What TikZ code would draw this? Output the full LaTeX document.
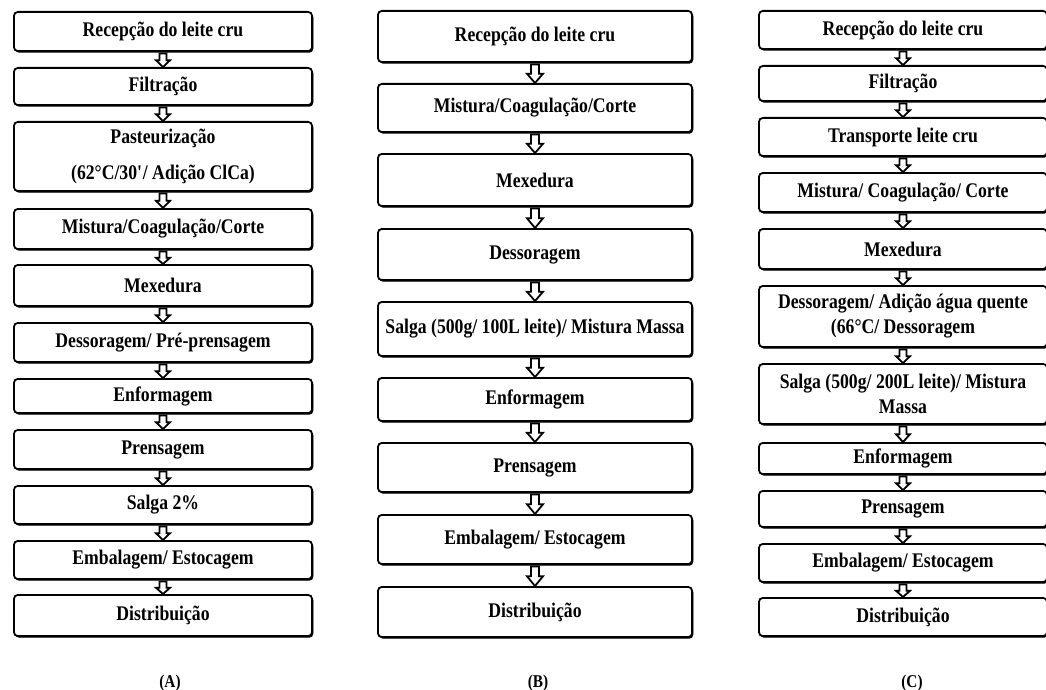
\documentclass[tikz,border=0pt]{standalone}
\usepackage{fontspec}
\setmainfont{Liberation Serif}[FakeStretch=0.85]
\usetikzlibrary{calc,shadows}
\pgfdeclarelayer{bg}
\pgfdeclarelayer{arrowlayer}
\pgfsetlayers{bg,arrowlayer,main}
\tikzset{
  flowbox/.style={draw=black, line width=1.8pt, rounded corners=4pt, fill=white,
    drop shadow={shadow xshift=1.2pt, shadow yshift=-1.6pt, opacity=1, fill=black},
    inner sep=0pt, align=center, text=black,
    font=\fontsize{20.8}{25}\selectfont\bfseries},
  flowarrow/.style={draw=black, line width=1.8pt, fill=white, line join=miter},
  caption/.style={inner sep=0pt, font=\fontsize{18}{20}\selectfont\bfseries}
}
% \stepnode{name}{center x}{width}{top}{bottom}{text}
\newcommand\stepnode[6]{%
  \node[flowbox, minimum width={#3*1pt-1.8pt}, minimum height={(#5-#4)*1pt-1.8pt}]
    (#1) at (#2,{(#4+#5)/2}) {#6};}
% \blockarrow{from}{to}{half shaft}{half head}
\newcommand\blockarrow[4]{%
  \draw[flowarrow] let \p1=($(#1.south)+(0,1.5)$), \p2=(#2.north),
    \n1={\y1+0.5*(\y2-\y1)} in
    (\x1-#3pt,\y1) -- (\x1+#3pt,\y1) -- (\x1+#3pt,\n1) -- (\x1+#4pt,\n1)
    -- (\x1,\y2) -- (\x1-#4pt,\n1) -- (\x1-#3pt,\n1) -- cycle;}
\begin{document}
\begin{tikzpicture}[x=1pt,y=-1pt]
\begin{pgfonlayer}{bg}
\fill[white] (0,0) rectangle (1046,690);
\end{pgfonlayer}
\useasboundingbox (0,0) rectangle (1046,690);

% ---------- Column A ----------
\stepnode{a1}{163}{300}{11}{52}{Recepção do leite cru}
\stepnode{a2}{163}{300}{67}{106}{Filtração}
\stepnode{a3}{163}{300}{121}{192}{Pasteurização\\[11pt](62°C/30\textquotesingle/ Adição ClCa)}
\stepnode{a4}{163}{300}{208}{250}{Mistura/Coagulação/Corte}
\stepnode{a5}{163}{300}{264}{307}{Mexedura}
\stepnode{a6}{163}{300}{322}{363}{Dessoragem/ Pré-prensagem}
\stepnode{a7}{163}{300}{378}{414}{Enformagem}
\stepnode{a8}{163}{300}{429}{470}{Prensagem}
\stepnode{a9}{163}{300}{485}{525}{Salga 2\%}
\stepnode{a10}{163}{300}{540}{580}{Embalagem/ Estocagem}
\stepnode{a11}{163}{300}{594}{637}{Distribuição}

% ---------- Column B ----------
\stepnode{b1}{535}{316}{10}{63}{Recepção do leite cru}
\stepnode{b2}{535}{316}{83}{133}{Mistura/Coagulação/Corte}
\stepnode{b3}{535}{316}{153}{207}{Mexedura}
\stepnode{b4}{535}{316}{228}{281}{Dessoragem}
\stepnode{b5}{535}{316}{301}{357}{Salga (500g/ 100L leite)/ Mistura Massa}
\stepnode{b6}{535}{316}{377}{422}{Enformagem}
\stepnode{b7}{535}{316}{442}{493}{Prensagem}
\stepnode{b8}{535}{316}{514}{565}{Embalagem/ Estocagem}
\stepnode{b9}{535}{316}{586}{638}{Distribuição}

% ---------- Column C ----------
\stepnode{c1}{903}{290}{10}{50}{Recepção do leite cru}
\stepnode{c2}{903}{290}{65}{102}{Filtração}
\stepnode{c3}{903}{290}{117}{157}{Transporte leite cru}
\stepnode{c4}{903}{290}{172}{213}{Mistura/ Coagulação/ Corte}
\stepnode{c5}{903}{290}{228}{270}{Mexedura}
\stepnode{c6}{903}{290}{285}{348}{Dessoragem/ Adição água quente\\(66°C/ Dessoragem}
\stepnode{c7}{903}{290}{363}{425}{Salga (500g/ 200L leite)/ Mistura\\Massa}
\stepnode{c8}{903}{290}{442}{475}{Enformagem}
\stepnode{c9}{903}{290}{490}{528}{Prensagem}
\stepnode{c10}{903}{290}{543}{583}{Embalagem/ Estocagem}
\stepnode{c11}{903}{290}{597}{637}{Distribuição}

% ---------- Arrows ----------
\begin{pgfonlayer}{arrowlayer}
\foreach \i [evaluate=\i as \j using int(\i+1)] in {1,...,10} {\blockarrow{a\i}{a\j}{3.5}{7}}
\foreach \i [evaluate=\i as \j using int(\i+1)] in {1,...,8} {\blockarrow{b\i}{b\j}{4}{8}}
\foreach \i [evaluate=\i as \j using int(\i+1)] in {1,...,10} {\blockarrow{c\i}{c\j}{3.5}{7}}
\end{pgfonlayer}

% ---------- Captions ----------
\node[caption] (capA) at (170,683) {(A)};
\node[caption] (capB) at (538,683) {(B)};
\node[caption] (capC) at (912,683) {(C)};
\end{tikzpicture}
\end{document}
